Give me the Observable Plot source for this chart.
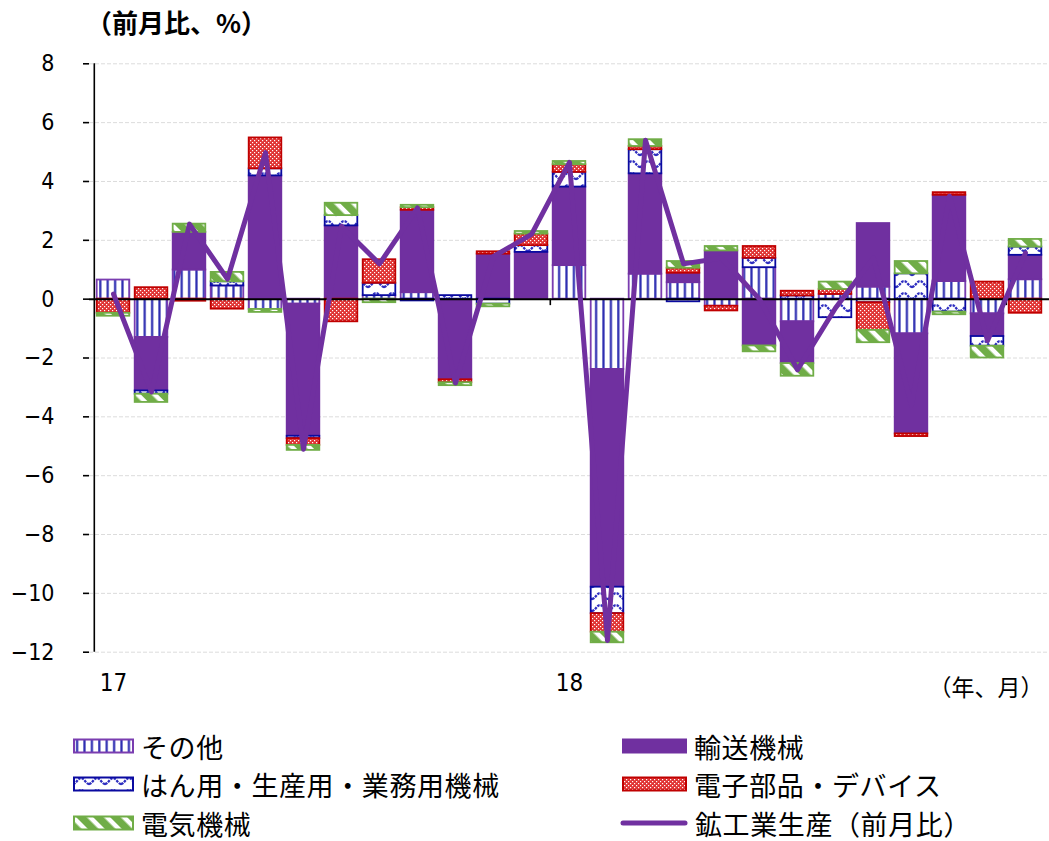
<!DOCTYPE html>
<html>
<head>
<meta charset="utf-8">
<script src="https://cdn.jsdelivr.net/npm/d3@7"></script>
<script src="https://cdn.jsdelivr.net/npm/@observablehq/plot@0.6"></script>
<style>
  body { margin: 0; background: #fff; }
  #wrap { position: relative; width: 1049px; height: 841px; font-family: "Noto Sans CJK JP", sans-serif; color: #000; overflow: hidden; }
  #title { position: absolute; left: 86px; top: 3px; font-size: 26px; font-weight: bold; line-height: 38px; white-space: nowrap; }
  #chart { position: absolute; left: 0; top: 50px; }
  .leg { position: absolute; display: flex; align-items: center; height: 36px; font-size: 27px; letter-spacing: 0.6px; white-space: nowrap; }
  .leg svg { margin-right: 7px; flex: none; }
</style>
</head>
<body>
<div id="wrap">
  <div id="title">（前月比、%）</div>
  <div id="chart"></div>
</div>
<script>
// ---- data (month-on-month %, contributions) ----
const months = ["2017-01","2017-02","2017-03","2017-04","2017-05","2017-06","2017-07","2017-08","2017-09","2017-10","2017-11","2017-12",
                "2018-01","2018-02","2018-03","2018-04","2018-05","2018-06","2018-07","2018-08","2018-09","2018-10","2018-11","2018-12","2019-01"];
const seriesNames = ["その他", "輸送機械", "はん用・生産用・業務用機械", "電子部品・デバイス", "電気機械"];
const other      = [0.65,-1.30,0.99,0.45,-0.35,-0.17,0.00,0.12,0.22,0.00,0.00,0.00, 1.14,-2.39,0.85,0.56,-0.24,1.07,-0.77,0.16,0.41,-1.18,0.60,-0.50,0.66];
const transport  = [0.00,-1.82,1.28,0.00,4.19,-4.49,2.49,0.00,2.80,-2.74,1.53,1.59, 2.67,-7.40,3.41,0.32,1.64,-1.59,-1.42,0.00,2.16,-3.40,2.93,-0.77,0.83];
const generalMach= [0.00,-0.11,0.00,0.14,0.24,-0.08,0.35,0.42,-0.06,0.12,-0.17,0.23, 0.50,-0.90,0.82,-0.09,0.00,0.32,0.11,-0.63,-0.12,0.86,-0.44,-0.33,0.28];
const electronic = [-0.48,0.39,-0.07,-0.34,1.05,-0.23,-0.77,0.80,0.09,-0.10,0.08,0.39, 0.26,-0.63,0.11,0.17,-0.16,0.40,0.16,0.17,-0.94,-0.09,0.09,0.58,-0.48];
const electrical = [-0.10,-0.28,0.28,0.32,-0.10,-0.17,0.42,-0.12,0.08,-0.10,-0.09,0.09, 0.11,-0.36,0.23,0.23,0.15,-0.20,-0.43,0.25,-0.42,0.42,-0.09,-0.40,0.26];
const production = [0.17,-3.15,2.55,0.68,4.98,-5.10,2.48,1.20,3.10,-2.85,1.45,2.20, 4.65,-11.60,5.40,1.20,1.40,0.00,-2.40,-0.30,1.40,-3.60,3.50,-1.41,1.57];
const lineName = "鉱工業生産（前月比）";
const yTicks = [-12,-10,-8,-6,-4,-2,0,2,4,6,8];
const yearTicks = ["2017-01","2018-01"];
const yearBounds = ["2018-01","2019-01"];

// ---- styles ----
const fills = {
  "その他": "url(#p-other)",
  "輸送機械": "#7030A0",
  "はん用・生産用・業務用機械": "url(#p-gen)",
  "電子部品・デバイス": "url(#p-elec)",
  "電気機械": "url(#p-em)"
};
const strokes = {
  "その他": "#7A3DB0",
  "輸送機械": "#7030A0",
  "はん用・生産用・業務用機械": "#0A0AA0",
  "電子部品・デバイス": "#C00000",
  "電気機械": "#70AD47"
};
const defsHTML = `
<pattern id="p-other" patternUnits="userSpaceOnUse" width="7.4" height="8">
  <rect width="7.4" height="8" fill="#fff"/><rect x="3" width="2.2" height="8" fill="#2B2BB0"/>
</pattern>
<pattern id="p-gen" patternUnits="userSpaceOnUse" width="16" height="12">
  <rect width="16" height="12" fill="#fff"/>
  <path d="M0,9 C3,9 5,3 8,3 C11,3 13,9 16,9" fill="none" stroke="#2E2EC0" stroke-width="2.3" stroke-dasharray="2.6 1"/>
</pattern>
<pattern id="p-elec" patternUnits="userSpaceOnUse" width="4" height="4">
  <rect width="4" height="4" fill="#E03434"/><rect width="1.2" height="1.2" fill="#fff"/><rect x="2" y="2" width="1.2" height="1.2" fill="#fff"/>
</pattern>
<pattern id="p-em" patternUnits="userSpaceOnUse" width="12" height="12" patternTransform="rotate(-45)">
  <rect width="12" height="12" fill="#fff"/><rect width="7.5" height="12" fill="#70AD47"/>
</pattern>`;

// ---- table ----
const seriesArrays = [other, transport, generalMach, electronic, electrical];
const rows = [];
seriesNames.forEach((s, si) => {
  months.forEach((m, i) => {
    const v = seriesArrays[si][i];
    if (v !== 0) rows.push({month: m, series: s, value: v});
  });
});
const lineRows = months.map((m, i) => ({month: m, value: production[i]}));

const W = 1049, H = 670, ML = 89, MR = 0;
const step = (W - ML - MR) / months.length;
const inset = (step - 33) / 2;
const numFont = "'DejaVu Sans Condensed', 'Liberation Sans Narrow', sans-serif";

const chart = Plot.plot({
  width: W, height: H,
  marginTop: 13.3, marginBottom: 68.3, marginLeft: ML, marginRight: MR,
  x: {type: "band", domain: months, padding: 0, axis: null, label: null},
  y: {domain: [-12, 8], axis: null, label: null},
  color: {type: "identity"},
  style: {fontFamily: numFont, fontSize: "23px", background: "white", overflow: "visible"},
  marks: [
    Plot.gridY(yTicks.filter(d => d !== 0), {stroke: "#DCDCDC", strokeOpacity: 1, strokeDasharray: "4 2", strokeWidth: 1}),
    Plot.barY(rows, Plot.stackY({
      x: "month", y: "value", z: "series", order: seriesNames,
      insetLeft: inset, insetRight: inset,
      fill: d => fills[d.series], stroke: d => strokes[d.series], strokeWidth: 1.8
    })),
    Plot.ruleY([0], {stroke: "#000", strokeWidth: 2}),
    Plot.ruleX([months[0]], {x: d => d, dx: -step / 2, y1: -12, y2: 8, stroke: "#000", strokeWidth: 1.6}),
    Plot.ruleX(yearBounds, {x: d => d, dx: -step / 2, y1: 0, y2: -0.22, stroke: "#000", strokeWidth: 1.6}),
    Plot.axisY({ticks: yTicks, label: null, tickSize: 6, tickPadding: 29, tickFormat: d => d < 0 ? "−" + Math.abs(d) : String(d),
                fontSize: 23, fontFamily: numFont, stroke: "#000", strokeWidth: 1.6}),
    Plot.axisX({ticks: yearTicks, label: null, tickSize: 0, tickPadding: 22, tickFormat: d => d.slice(2, 4),
                fontSize: 24, fontFamily: numFont}),
    Plot.line(lineRows, {x: "month", y: "value", stroke: "#7030A0", strokeWidth: 5, strokeLinejoin: "round", strokeLinecap: "round"}),
    Plot.text(["（年、月）"], {frameAnchor: "bottom-right", dx: -6, dy: 44, textAnchor: "end",
               fontSize: 23, fontFamily: "Noto Sans CJK JP, sans-serif", fill: "#000"})
  ]
});
d3.select(chart).insert("defs", ":first-child").html(defsHTML);
document.getElementById("chart").appendChild(chart);

// ---- legend ----
const wrap = document.getElementById("wrap");
function swatch(kind, key, w, h) {
  const ns = "http://www.w3.org/2000/svg";
  const svg = document.createElementNS(ns, "svg");
  svg.setAttribute("width", w); svg.setAttribute("height", 18);
  if (kind === "line") {
    const l = document.createElementNS(ns, "line");
    l.setAttribute("x1", 3); l.setAttribute("x2", w - 3); l.setAttribute("y1", 9); l.setAttribute("y2", 9);
    l.setAttribute("stroke", "#7030A0"); l.setAttribute("stroke-width", 5); l.setAttribute("stroke-linecap", "round");
    svg.appendChild(l);
  } else {
    const r = document.createElementNS(ns, "rect");
    r.setAttribute("x", 1); r.setAttribute("y", 9 - h / 2); r.setAttribute("width", w - 2); r.setAttribute("height", h);
    r.setAttribute("fill", fills[key]); r.setAttribute("stroke", strokes[key]); r.setAttribute("stroke-width", 2);
    svg.appendChild(r);
  }
  return svg;
}
const legendItems = [
  {key: seriesNames[0], x: 73, y: 746, kind: "bar", w: 61},
  {key: seriesNames[2], x: 73, y: 784, kind: "bar", w: 61},
  {key: seriesNames[4], x: 73, y: 823, kind: "bar", w: 61},
  {key: seriesNames[1], x: 622, y: 746, kind: "bar", w: 65},
  {key: seriesNames[3], x: 622, y: 784, kind: "bar", w: 65},
  {key: lineName, x: 620, y: 823, kind: "line", w: 68}
];
legendItems.forEach(it => {
  const div = document.createElement("div");
  div.className = "leg";
  div.style.left = it.x + "px";
  div.style.top = (it.y - 18) + "px";
  div.appendChild(swatch(it.kind, it.key, it.w, 13));
  const span = document.createElement("span");
  span.textContent = it.key;
  div.appendChild(span);
  wrap.appendChild(div);
});
</script>
</body>
</html>
